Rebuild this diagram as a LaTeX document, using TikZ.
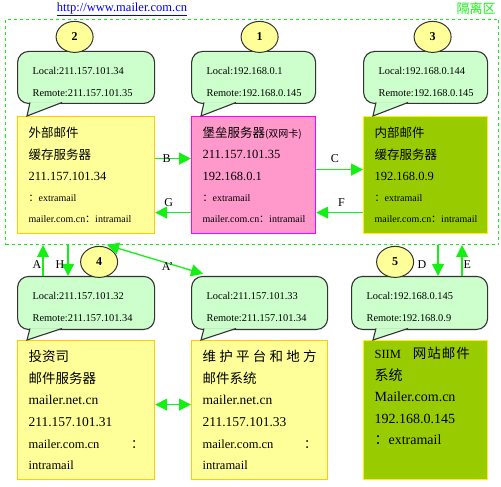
\documentclass[tikz,border=0pt]{standalone}
\usepackage{fontspec}
\setmainfont{Liberation Serif}
\newfontfamily\cjk{Noto Sans CJK SC}
\usetikzlibrary{positioning, arrows.meta, shapes.geometric, calc}
\definecolor{linegreen}{RGB}{20,240,20}
\definecolor{paleyellow}{RGB}{255,255,153}
\definecolor{goldline}{RGB}{255,204,0}
\definecolor{pinkfill}{RGB}{255,153,204}
\definecolor{magentaline}{RGB}{255,0,255}
\definecolor{olivefill}{RGB}{153,204,0}
\definecolor{mintfill}{RGB}{204,255,204}
\definecolor{inkgrey}{RGB}{51,51,51}
\definecolor{linkblue}{RGB}{0,0,238}
\newcommand{\smallline}[1]{{\fontsize{10}{21.3}\selectfont #1}}
\newcommand{\bubtail}[2]{
  \coordinate (tip) at ([xshift=10pt]#2.north west);
  \fill[mintfill] ($(tip |- #1.south)+(3,-1.5)$) -- (tip) -- ($(tip |- #1.south)+(35,-1.5)$) -- cycle;
  \draw[inkgrey, line width=1.1pt] ($(tip |- #1.south)+(3,-1.5)$) -- (tip) -- ($(tip |- #1.south)+(35,-1.5)$);
}

\begin{document}
\begin{tikzpicture}[
    x=1pt, y=-1pt,
    >={Triangle[length=12pt,width=12pt]},
    zone/.style={draw=linegreen, dash pattern=on 3pt off 3pt, line width=1pt, anchor=north west, minimum width=493pt, minimum height=225pt, inner sep=0pt},
    box/.style={draw, line width=1.2pt, anchor=north west, inner xsep=11pt, inner ysep=0pt, align=left, font=\fontsize{12.5}{21.3}\selectfont},
    outbox/.style={box, draw=goldline, fill=paleyellow},
    gatebox/.style={box, draw=magentaline, fill=pinkfill},
    inbox/.style={box, draw=yellow, fill=olivefill},
    bubble/.style={draw=inkgrey, line width=1.1pt, fill=mintfill, rounded corners=11pt, inner xsep=15pt, inner ysep=0pt, text height=16pt, align=left, font=\fontsize{10.4}{22}\selectfont},
    badge/.style={ellipse, draw=inkgrey, line width=1pt, fill=paleyellow, minimum width=37pt, minimum height=31pt, inner sep=0pt, font=\bfseries\fontsize{12}{12}\selectfont},
    tag/.style={font=\fontsize{12}{12}\selectfont, inner sep=1pt},
    arrow/.style={->, draw=linegreen, line width=1.3pt},
    dblarrow/.style={<->, draw=linegreen, line width=1.3pt},
]
\useasboundingbox (0,0) rectangle (501,487);

% ------------------------------------------------------------- heading ---
\node[font=\fontsize{12.5}{14}\selectfont, text=linkblue] (url) at (122,9) {\underline{http://www.mailer.com.cn}};
\node[font=\cjk\fontsize{13}{14}\selectfont, text=linegreen] (zonename) at (476,9) {隔离区};
\node[zone] (zone) at (5,19) {};

% ------------------------------------------------------------- top row ---
\node[outbox, minimum width=137pt, minimum height=117pt, text width=115pt] (ext) at (17,116) {
  {\cjk 外部邮件}\\
  {\cjk 缓存服务器}\\
  211.157.101.34\\
  \smallline{{\cjk ：}extramail}\\
  \smallline{mailer.com.cn{\cjk ：}intramail}};
\node[gatebox, minimum width=124pt, minimum height=117pt, text width=102pt] (gate) at (191,116) {
  {\cjk 堡垒服务器{\fontsize{10}{21.3}\selectfont(双网卡)}}\\
  211.157.101.35\\
  192.168.0.1\\
  \smallline{{\cjk ：}extramail}\\
  \smallline{mailer.com.cn{\cjk ：}intramail}};
\node[inbox, minimum width=124pt, minimum height=117pt, text width=102pt] (in) at (363,116) {
  {\cjk 内部邮件}\\
  {\cjk 缓存服务器}\\
  192.168.0.9\\
  \smallline{{\cjk ：}extramail}\\
  \smallline{mailer.com.cn{\cjk ：}intramail}};

\node[bubble, above=12pt of ext, minimum width=137pt, minimum height=52pt, text width=107pt] (bext) {Local:211.157.101.34\\Remote:211.157.101.35};
\node[bubble, above=12pt of gate, minimum width=124pt, minimum height=52pt, text width=94pt] (bgate) {Local:192.168.0.1\\Remote:192.168.0.145};
\node[bubble, above=12pt of in, minimum width=124pt, minimum height=52pt, text width=94pt] (bin) {Local:192.168.0.144\\Remote:192.168.0.145};
\bubtail{bext}{ext}
\bubtail{bgate}{gate}
\bubtail{bin}{in}

\node[badge, above=-2pt of bext, xshift=-11.5pt] (n2) {2};
\node[badge, above=-2pt of bgate, xshift=6pt] (n1) {1};
\node[badge, above=-2pt of bin, xshift=7pt] (n3) {3};

\draw[arrow] ([yshift=16.5pt]ext.east) -- node[tag, pos=0.32] {B} ([yshift=16.5pt]gate.west);
\draw[arrow] ([yshift=-37.5pt]gate.west) -- node[tag, above=4pt, pos=0.62] {G} ([yshift=-37.5pt]ext.east);
\draw[arrow] ([yshift=5.5pt]gate.east) -- node[tag, above=5pt, pos=0.4] {C} ([yshift=5.5pt]in.west);
\draw[arrow] ([yshift=-37.5pt]in.west) -- node[tag, above=4pt, pos=0.46] {F} ([yshift=-37.5pt]gate.east);

% ---------------------------------------------------------- bottom row ---
\node[outbox, minimum width=137pt, minimum height=139pt, text width=115pt, font=\fontsize{13.5}{21.6}\selectfont] (inv) at (17,340) {
  {\cjk 投资司}\\
  {\cjk 邮件服务器}\\
  mailer.net.cn\\
  211.157.101.31\\
  {\fontsize{12.5}{21.6}\selectfont mailer.com.cn\hfill{\cjk ：}}\\
  {\fontsize{12.5}{21.6}\selectfont intramail}};
\node[outbox, minimum width=136pt, minimum height=139pt, text width=114pt, font=\fontsize{13.5}{21.6}\selectfont] (maint) at (191,340) {
  {\cjk 维\hfill 护\hfill 平\hfill 台\hfill 和\hfill 地\hfill 方}\\
  {\cjk 邮件系统}\\
  mailer.net.cn\\
  211.157.101.33\\
  {\fontsize{12.5}{21.6}\selectfont mailer.com.cn\hfill{\cjk ：}}\\
  {\fontsize{12.5}{21.6}\selectfont intramail}};
\node[inbox, minimum width=124pt, minimum height=139pt, text width=102pt, font=\fontsize{14}{21.6}\selectfont] (siim) at (363,340) {
  {\fontsize{12.5}{21.6}\selectfont SIIM}\hspace{12pt}{\cjk\fontsize{13.5}{21.6}\selectfont 网\hspace{1pt}站\hspace{1pt}邮\hspace{1pt}件}\\
  {\cjk 系统}\\
  Mailer.com.cn\\
  192.168.0.145\\
  {\cjk ：}extramail\\
  \strut};

\node[bubble, above=10pt of inv, minimum width=137pt, minimum height=53pt, text width=107pt] (binv) {Local:211.157.101.32\\Remote:211.157.101.34};
\node[bubble, above=10pt of maint, minimum width=136pt, minimum height=53pt, text width=106pt] (bmaint) {Local:211.157.101.33\\Remote:211.157.101.34};
\node[bubble, above=10pt of siim, xshift=-6pt, minimum width=136pt, minimum height=53pt, text width=106pt] (bsiim) {Local:192.168.0.145\\Remote:192.168.0.9};
\bubtail{binv}{inv}
\bubtail{bmaint}{maint}
\bubtail{bsiim}{siim}

\node[badge, above=-2pt of binv, xshift=13pt] (n4) {4};
\node[badge, above=-2pt of bsiim, xshift=-24.5pt] (n5) {5};

\draw[dblarrow] ([yshift=5.5pt]inv.east) -- ([yshift=5.5pt]maint.west);

% ------------------------------------------------ links across the zone ---
\coordinate (qa) at ([xshift=26pt]binv.north west);
\coordinate (qh) at ([xshift=51pt]binv.north west);
\coordinate (qfar) at ([xshift=102pt]zone.south west);
\coordinate (qnear) at ([xshift=12pt, yshift=2pt]bmaint.north west);
\coordinate (qd) at ([xshift=87pt]bsiim.north west);
\coordinate (qe) at ([xshift=111pt]bsiim.north west);
\draw[arrow] (qa) -- node[tag, left, pos=0.36] {A} (qa |- zone.south);
\draw[arrow] (qh |- zone.south) -- node[tag, left=2pt, pos=0.64] {H} (qh);
\draw[dblarrow] (qfar) -- node[tag, pos=0.63, yshift=-3pt] {A'} (qnear);
\draw[arrow] (qd |- zone.south) -- node[tag, left=10pt, pos=0.64] {D} (qd);
\draw[arrow] (qe) -- node[tag, right, pos=0.36] {E} (qe |- zone.south);

\end{tikzpicture}
\end{document}
